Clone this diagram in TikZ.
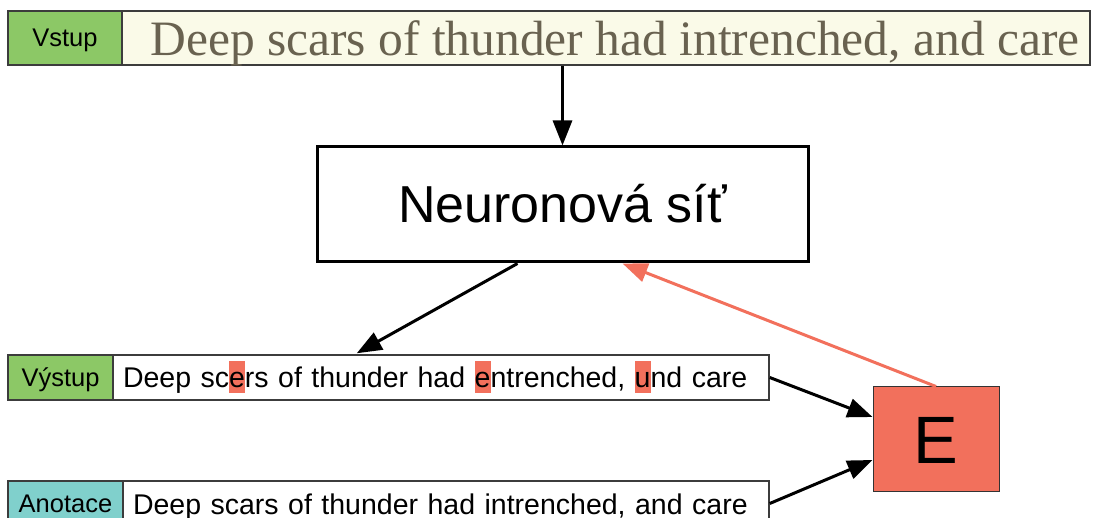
\documentclass[tikz,border=0pt]{standalone}
\usepackage{fontspec}
\setmainfont{Liberation Sans}
\newfontfamily\scanfont{Liberation Serif}
\usetikzlibrary{arrows.meta}
\definecolor{lblgreen}{RGB}{140,200,102}
\definecolor{lblteal}{RGB}{128,208,204}
\definecolor{errred}{RGB}{242,112,92}
\definecolor{scancream}{RGB}{250,250,232}
\definecolor{scanink}{RGB}{105,98,80}
\definecolor{boxline}{RGB}{60,60,60}
\newcommand{\errmark}[1]{{\setlength{\fboxsep}{0pt}\colorbox{errred}{\rule[-5pt]{0pt}{32pt}#1}}}
\begin{document}
\begin{tikzpicture}[x=1pt,y=-1pt,
    box/.style={draw=boxline,line width=1.5pt,rectangle,inner sep=0pt},
    lbl/.style={box,font=\fontsize{25.5}{30}\selectfont,text height=22pt,text depth=4pt},
    rowtext/.style={box,fill=white,font=\fontsize{28.5}{34}\selectfont,text height=26pt,text depth=5pt,align=left,inner xsep=10pt,minimum height=45pt},
    flow/.style={line width=3pt,-{Triangle[length=25pt,width=19pt]}},
    back/.style={draw=errred,line width=3pt,-{Triangle[length=25pt,width=19pt]}}]
    \useasboundingbox (0,0) rectangle (1095,518);
    \node [lbl,fill=lblgreen,minimum width=114pt,minimum height=54pt] (vstup) at (65,38) {Vstup};
    \node [box,fill=scancream,text=scanink,font=\scanfont\fontsize{49.5}{58}\selectfont,text height=41pt,text depth=5pt,minimum width=968pt,minimum height=54pt] (scan) at (606,38) {\hspace*{18pt}Deep scars of thunder had intrenched, and care};
    \node [draw,line width=3pt,inner sep=0pt,minimum width=491pt,minimum height=115pt,font=\fontsize{52}{62}\selectfont,text height=37pt,text depth=0pt] (net) at (562.5,204.5) {Neuronová síť};
    \node [lbl,fill=lblgreen,minimum width=105pt,minimum height=45pt] (vystlbl) at (60.5,377.5) {Výstup};
    \node [rowtext,text width=636pt] (vysttxt) at (441,377.5) {Deep sc\errmark{e}rs of thunder had \errmark{e}ntrenched, \errmark{u}nd care};
    \node [lbl,fill=lblteal,minimum width=115pt,minimum height=45pt] (anotlbl) at (65.5,503.5) {Anotace};
    \node [rowtext,text width=626pt] (anottxt) at (446,503.5) {Deep scars of thunder had intrenched, and care};
    \node [box,fill=errred,draw=black!80,line width=1pt,minimum width=126pt,minimum height=104pt,font=\fontsize{67}{80}\selectfont,text height=48pt,text depth=0pt] (err) at (936,439) {E};
    \draw [flow] (net.north |- scan.south) -- (net.north);
    \draw [flow,shorten >=2pt] ([xshift=-45pt]net.south) -- ([xshift=-86pt]vysttxt.north);
    \draw [flow] (vysttxt.east) -- ([yshift=22pt]err.west);
    \draw [flow] (anottxt.east) -- ([yshift=-21pt]err.west);
    \draw [back] (err.north) -- ([xshift=60pt]net.south);
\end{tikzpicture}
\end{document}
